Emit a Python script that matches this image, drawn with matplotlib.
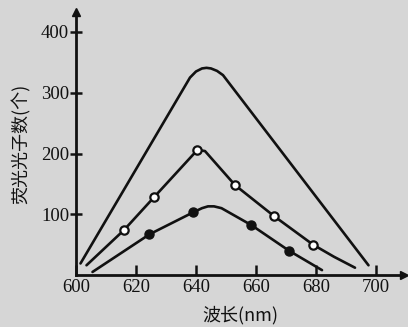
import matplotlib
matplotlib.use("Agg")
import matplotlib.pyplot as plt

# --- data ---
xticks = [600, 620, 640, 660, 680, 700]
yticks = [100, 200, 300, 400]

# top curve (no markers)
top_x = [601.5, 638.0, 640.0, 642.0, 643.5, 645.0, 647.0, 649.0, 697.5]
top_y = [19, 325, 335, 340, 341, 340, 336, 329, 16]

# middle curve (open circles)
mid_line_x = [603.5, 616, 626, 640.5, 643.0, 653, 666, 679, 686, 693]
mid_line_y = [16, 74, 128, 206, 204, 148, 97, 50, 30, 12]
mid_pts_x = [616, 626, 640.5, 653, 666, 679]
mid_pts_y = [74, 128, 206, 148, 97, 50]

# bottom curve (filled circles)
bot_line_x = [605.5, 624.5, 639, 642.0, 644.0, 646.0, 648.5, 658.5, 671, 682]
bot_line_y = [5, 67, 103, 110, 113, 113, 110, 82, 40, 8]
bot_pts_x = [624.5, 639, 658.5, 671]
bot_pts_y = [67, 103, 82, 40]

bg = "#d6d6d6"
W, H = 408, 327
fig = plt.figure(figsize=(W / 100, H / 100), dpi=100, facecolor=bg)
left_px, right_px = 76, 404
bottom_px, top_px = 275, 12
ax = fig.add_axes([left_px / W, (H - bottom_px) / H,
                   (right_px - left_px) / W, (bottom_px - top_px) / H])
ax.set_facecolor(bg)
pxx = 3.0
pxy = (275 - 32) / 400
ax.set_xlim(600, 600 + (right_px - left_px) / pxx)
ax.set_ylim(0, (bottom_px - top_px) / pxy)

lw = 1.9
ink = "#111111"
ax.plot(top_x, top_y, color=ink, lw=lw, solid_joinstyle="round", solid_capstyle="round")
ax.plot(mid_line_x, mid_line_y, color=ink, lw=lw, solid_joinstyle="round", solid_capstyle="round")
ax.plot(mid_pts_x, mid_pts_y, "o", ms=6, mfc="white", mec=ink, mew=1.6, ls="none")
ax.plot(bot_line_x, bot_line_y, color=ink, lw=lw, solid_joinstyle="round", solid_capstyle="round")
ax.plot(bot_pts_x, bot_pts_y, "o", ms=6.5, mfc=ink, mec=ink, ls="none")

for s in ["top", "right"]:
    ax.spines[s].set_visible(False)
for s in ["left", "bottom"]:
    ax.spines[s].set_linewidth(2.0)
    ax.spines[s].set_color(ink)

# arrows
ax.plot([1], [0], marker=">", ms=6, color=ink, transform=ax.transAxes, clip_on=False)
ax.plot([0], [1], marker="^", ms=6, color=ink, transform=ax.transAxes, clip_on=False)

ax.set_xticks(xticks)
ax.set_yticks(yticks)
tickfont = {"family": "Liberation Serif", "size": 13.5}
ax.set_xticklabels([str(v) for v in xticks], fontdict=tickfont, color=ink)
ax.set_yticklabels([str(v) for v in yticks], fontdict=tickfont, color=ink)
ax.tick_params(axis="x", direction="in", length=7, width=1.8, color=ink, pad=3)
ax.tick_params(axis="y", direction="inout", length=8, width=1.8, color=ink, pad=1)

ax.set_xlabel("波长(nm)", family=["Noto Sans CJK SC", "DejaVu Sans"], fontsize=13,
              color=ink, labelpad=7)
ax.set_ylabel("荧光光子数(个)", family=["Noto Sans CJK SC", "DejaVu Sans"], fontsize=13,
              color=ink, labelpad=7)

fig.savefig("out.png", dpi=100, facecolor=bg)
